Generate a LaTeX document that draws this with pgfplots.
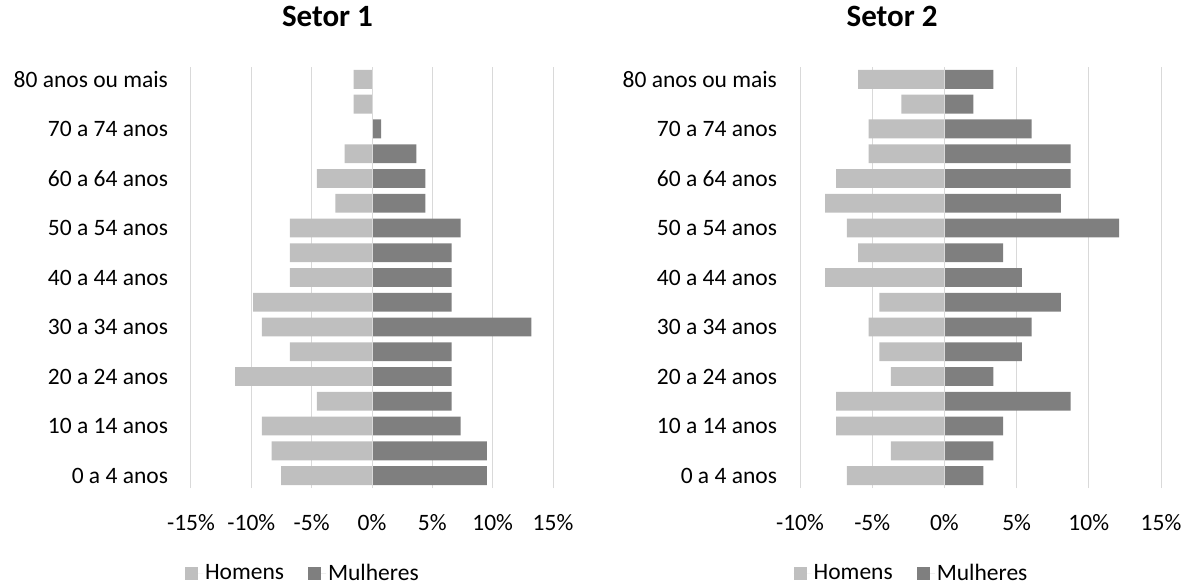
\documentclass[border=0pt]{standalone}
\usepackage{fontspec}
\setmainfont{Carlito}
\usepackage{pgfplots}
\usepackage{pgfplotstable}
\pgfplotsset{compat=1.18}

\definecolor{homens}{HTML}{BFBFBF}
\definecolor{mulheres}{HTML}{7F7F7F}
\definecolor{gridc}{HTML}{D9D9D9}

% faixa etaria (0 = 0 a 4 anos ... 16 = 80 anos ou mais), % homens (negativo), % mulheres
\pgfplotstableread{
faixa homens mulheres
0  -7.54  9.53
1  -8.31  9.53
2  -9.12  7.35
3  -4.56  6.60
4  -11.35 6.60
5  -6.80  6.60
6  -9.12  13.20
7  -9.86  6.60
8  -6.80  6.60
9  -6.80  6.60
10 -6.80  7.35
11 -3.04  4.42
12 -4.56  4.42
13 -2.27  3.67
14  0.00  0.75
15 -1.52  0.00
16 -1.52  0.00
}\setorum

\pgfplotstableread{
faixa homens mulheres
0  -6.76  2.70
1  -3.71  3.39
2  -7.50  4.06
3  -7.50  8.74
4  -3.71  3.39
5  -4.50  5.37
6  -5.24  6.04
7  -4.50  8.07
8  -8.26  5.37
9  -5.97  4.06
10 -6.76  12.10
11 -8.26  8.07
12 -7.50  8.74
13 -5.24  8.74
14 -5.24  6.04
15 -2.98  2.00
16 -5.97  3.39
}\setordois

\pgfplotsset{
  piramide/.style={
    scale only axis,
    anchor=south west,
    width=362pt, height=421pt,
    xbar, bar shift=0pt, bar width=0.76,
    ymin=-0.5, ymax=16.5,
    ytick={0,2,...,16},
    yticklabels={0 a 4 anos,10 a 14 anos,20 a 24 anos,30 a 34 anos,40 a 44 anos,50 a 54 anos,60 a 64 anos,70 a 74 anos,80 anos ou mais},
    axis line style={draw=none},
    major tick length=0pt,
    xmajorgrids,
    grid style={gridc, line width=1pt},
    xticklabel style={yshift=-18pt},
    yticklabel style={xshift=-15pt},
    title style={font=\bfseries\fontsize{31}{36}\selectfont, anchor=center},
    legend columns=2,
    legend style={draw=none, fill=none, font=\fontsize{23.5}{28}\selectfont,
      /tikz/every even column/.append style={column sep=22pt}},
    legend image code/.code={%
      \path (0pt,0pt) -- (18pt,0pt);
      \fill[##1, draw=none] (0pt,-6.5pt) rectangle (13pt,6.5pt);},
  },
}

\begin{document}
\fontsize{23.5}{28}\selectfont
\begin{tikzpicture}[font=\fontsize{23.5}{28}\selectfont]
\path[use as bounding box] (0pt,0pt) rectangle (1192pt,584pt);

\begin{axis}[
  piramide,
  at={(191pt,96pt)},
  xmin=-15, xmax=15,
  xtick={-15,-10,...,15},
  xticklabels={-15\%,-10\%,-5\%,0\%,5\%,10\%,15\%},
  title={Setor 1},
  title style={at={(rel axis cs:0.377,1.107)}},
  legend style={at={(rel axis cs:0.309,-0.204)}, anchor=center},
]
  \addplot[fill=homens, draw=none] table[x=homens, y=faixa] {\setorum};
  \addlegendentry{Homens}
  \addplot[fill=mulheres, draw=none] table[x=mulheres, y=faixa] {\setorum};
  \addlegendentry{Mulheres}
  \draw[gridc, line width=1pt] (axis cs:0,-0.5) -- (axis cs:0,16.5);
\end{axis}

\begin{axis}[
  piramide,
  at={(800pt,96pt)},
  width=361pt,
  xmin=-10, xmax=15,
  xtick={-10,-5,...,15},
  xticklabels={-10\%,-5\%,0\%,5\%,10\%,15\%},
  title={Setor 2},
  title style={at={(rel axis cs:0.255,1.107)}},
  legend style={at={(rel axis cs:0.309,-0.204)}, anchor=center},
]
  \addplot[fill=homens, draw=none] table[x=homens, y=faixa] {\setordois};
  \addlegendentry{Homens}
  \addplot[fill=mulheres, draw=none] table[x=mulheres, y=faixa] {\setordois};
  \addlegendentry{Mulheres}
  \draw[gridc, line width=1pt] (axis cs:0,-0.5) -- (axis cs:0,16.5);
\end{axis}
\end{tikzpicture}
\end{document}
